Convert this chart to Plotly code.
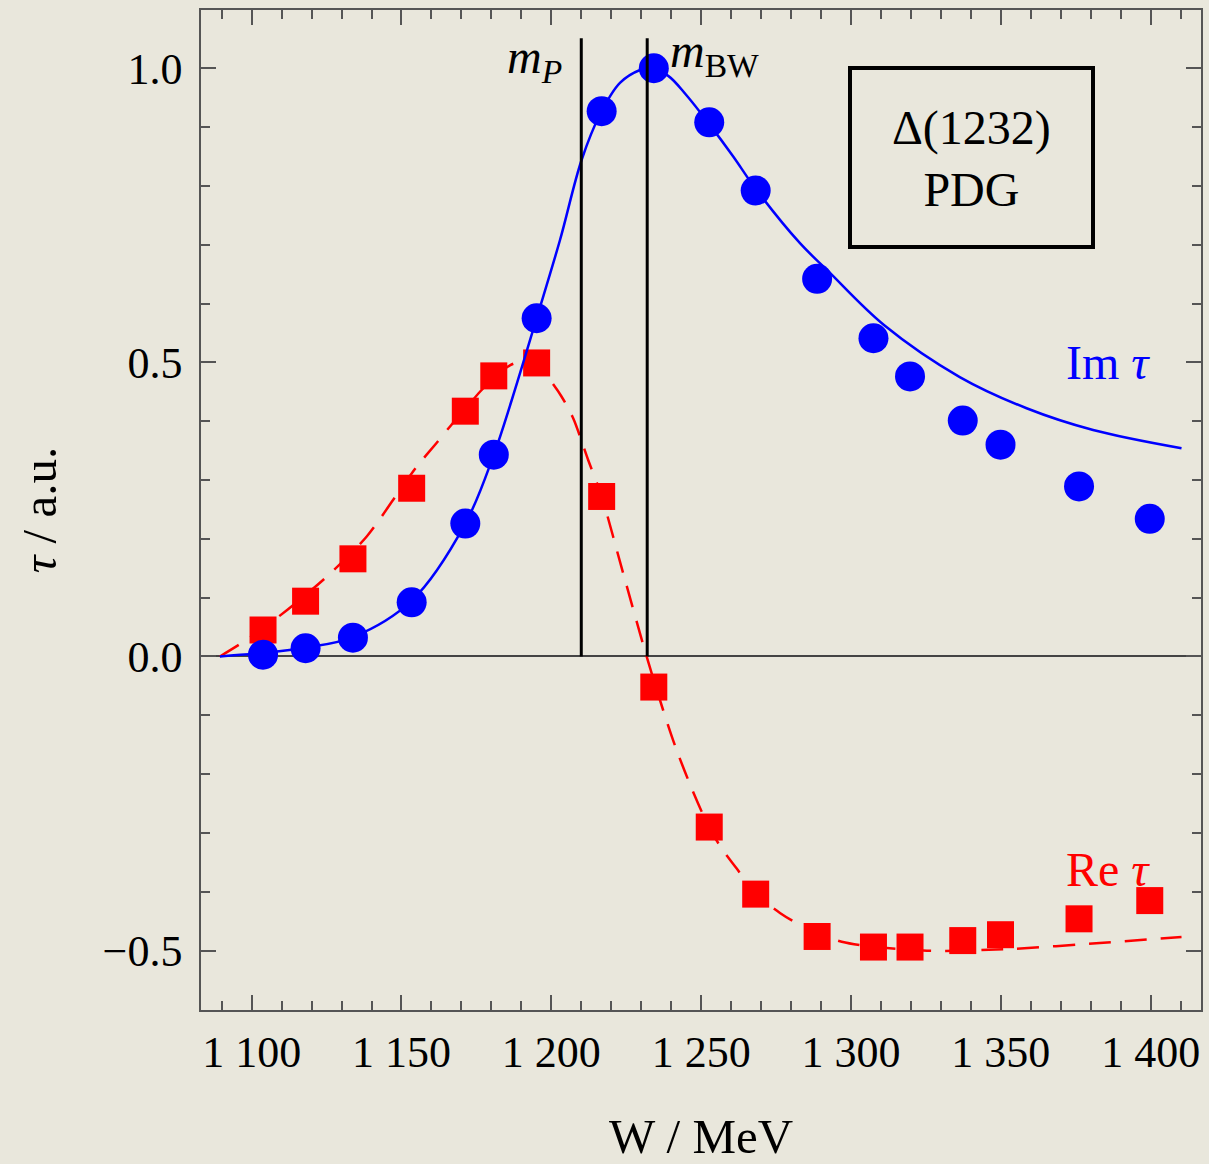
import plotly.graph_objects as go

# ---------------- data ----------------
W_pts = [1103.8, 1118.0, 1133.8, 1153.4, 1171.3, 1180.8, 1195.1, 1216.8, 1234.2,
         1252.7, 1268.2, 1288.7, 1307.5, 1319.7, 1337.3, 1349.9, 1376.1, 1399.7]
im_pts = [0.003, 0.014, 0.032, 0.092, 0.226, 0.343, 0.575, 0.927, 1.000,
          0.908, 0.792, 0.642, 0.541, 0.476, 0.401, 0.360, 0.289, 0.234]
re_pts = [0.045, 0.094, 0.166, 0.286, 0.417, 0.477, 0.499, 0.272, -0.052,
          -0.290, -0.404, -0.476, -0.494, -0.494, -0.483, -0.473, -0.446, -0.415]

W_im_curve = [1089.4, 1103.8, 1118.0, 1133.8, 1153.4, 1171.3, 1180.8, 1186.8, 1195.1,
              1202.9, 1210.1, 1216.2, 1222.9, 1229.6, 1233.0, 1239.0, 1245.1, 1252.7,
              1260.7, 1268.2, 1282.9, 1292.4, 1311.1, 1336.3, 1358.6, 1380.8, 1410.3]
im_curve = [0.000, 0.006, 0.015, 0.033, 0.095, 0.226, 0.343, 0.436, 0.575,
            0.708, 0.844, 0.921, 0.975, 0.997, 1.000, 0.987, 0.954, 0.905,
            0.850, 0.795, 0.703, 0.655, 0.563, 0.475, 0.422, 0.385, 0.354]

W_re_curve = [1089.4, 1096.7, 1108.3, 1124.5, 1138.4, 1149.5, 1155.0, 1161.7, 1166.7,
              1172.0, 1176.2, 1181.0, 1186.2, 1191.5, 1195.5, 1199.4, 1203.4, 1207.3,
              1212.3, 1216.8, 1224.0, 1231.8, 1237.3, 1241.8, 1247.3, 1252.6, 1256.8,
              1261.8, 1268.3, 1276.3, 1282.9, 1296.9, 1324.1, 1354.1, 1383.0, 1410.3]
re_curve = [0.000, 0.023, 0.065, 0.133, 0.204, 0.283, 0.322, 0.363, 0.394,
            0.425, 0.450, 0.474, 0.495, 0.503, 0.494, 0.471, 0.442, 0.405,
            0.334, 0.272, 0.141, 0.000, -0.091, -0.159, -0.230, -0.290, -0.326,
            -0.360, -0.404, -0.436, -0.456, -0.485, -0.500, -0.497, -0.487, -0.477]

mass_P = 1210.0
mass_BW = 1232.0
mass_line_top = 1.051

x_tickvals = [1100, 1150, 1200, 1250, 1300, 1350, 1400]
x_ticktext = ["1 100", "1 150", "1 200", "1 250", "1 300", "1 350", "1 400"]
x_minor = list(range(1090, 1420, 10))
y_tickvals = [-0.5, 0.0, 0.5, 1.0]
y_ticktext = ["\u22120.5", "0.0", "0.5", "1.0"]
y_minor = [round(-0.6 + 0.1 * i, 1) for i in range(18)]

# ---------------- styling ----------------
FONT = "Liberation Serif"
BG = "#E9E7DC"
FRAME = "#555555"
BLUE = "#0000FF"
RED = "#FF0000"

fig = go.Figure()

fig.add_trace(go.Scatter(x=W_pts, y=re_pts, mode="markers",
                         marker=dict(symbol="square", size=27, color=RED, line=dict(width=0)),
                         showlegend=False, hoverinfo="skip"))
fig.add_trace(go.Scatter(x=W_pts, y=im_pts, mode="markers",
                         marker=dict(symbol="circle", size=30, color=BLUE, line=dict(width=0)),
                         showlegend=False, hoverinfo="skip"))
fig.add_trace(go.Scatter(x=W_re_curve, y=re_curve, mode="lines",
                         line=dict(color=RED, width=2.5, dash="22px,14px", shape="spline", smoothing=0.8),
                         showlegend=False, hoverinfo="skip"))
fig.add_trace(go.Scatter(x=W_im_curve, y=im_curve, mode="lines",
                         line=dict(color=BLUE, width=2.5, shape="spline", smoothing=1.0),
                         showlegend=False, hoverinfo="skip"))
for m in (mass_P, mass_BW):
    fig.add_trace(go.Scatter(x=[m, m], y=[0, mass_line_top], mode="lines",
                             line=dict(color="black", width=3),
                             showlegend=False, hoverinfo="skip"))

axis_common = dict(
    showgrid=False, showline=True, linecolor=FRAME, linewidth=1.5, automargin=False,
    mirror="ticks", ticks="inside", ticklen=15, tickwidth=1.5, tickcolor=FRAME,
    tickfont=dict(family=FONT, size=44, color="black"),
)

fig.update_xaxes(
    range=[1083.1, 1416.8], tickmode="array", tickvals=x_tickvals, ticktext=x_ticktext,
    minor=dict(tickmode="array", tickvals=x_minor, ticks="inside", ticklen=9,
               tickwidth=1.5, tickcolor=FRAME),
    zeroline=False,
    title=dict(text="W / MeV", font=dict(family=FONT, size=49, color="black"), standoff=57),
    ticklabelstandoff=2,
    **axis_common,
)
fig.update_yaxes(
    range=[-0.601, 1.099], tickmode="array", tickvals=y_tickvals, ticktext=y_ticktext,
    minor=dict(tickmode="array", tickvals=y_minor, ticks="inside", ticklen=9,
               tickwidth=1.5, tickcolor=FRAME),
    zeroline=True, zerolinecolor="#444444", zerolinewidth=1.5,
    title=dict(text="<i>\u03c4</i> / a.u.", font=dict(family=FONT, size=49, color="black"), standoff=30),
    ticklabelstandoff=8,
    **axis_common,
)

fig.add_shape(type="rect", xref="paper", yref="paper", x0=0.649, x1=0.892, y0=0.763, y1=0.942,
              line=dict(color="black", width=4), fillcolor="rgba(0,0,0,0)")

ann_font = dict(family=FONT, size=48, color="black")
fig.add_annotation(text="\u0394(1232)<br>PDG", xref="paper", yref="paper", x=0.7705, y=0.852,
                   xanchor="center", yanchor="middle", showarrow=False, font=ann_font)
fig.add_annotation(text="<i>m</i><sub><i>P</i></sub>", xref="x", yref="paper", x=mass_P, y=0.950,
                   xanchor="right", yanchor="middle", xshift=-17, showarrow=False, font=ann_font)
fig.add_annotation(text="<i>m</i><sub>BW</sub>", xref="x", yref="paper", x=mass_BW, y=0.956,
                   xanchor="left", yanchor="middle", xshift=21, showarrow=False, font=ann_font)
fig.add_annotation(text="Im <i>\u03c4</i>", xref="paper", yref="paper", x=0.907, y=0.648,
                   xanchor="center", yanchor="middle", showarrow=False,
                   font=dict(family=FONT, size=48, color=BLUE))
fig.add_annotation(text="Re <i>\u03c4</i>", xref="paper", yref="paper", x=0.907, y=0.141,
                   xanchor="center", yanchor="middle", showarrow=False,
                   font=dict(family=FONT, size=48, color=RED))

fig.update_layout(
    width=1209, height=1164,
    margin=dict(l=201, r=8, t=10, b=154),
    paper_bgcolor=BG, plot_bgcolor=BG,
    font=dict(family=FONT, color="black"),
    showlegend=False,
)

fig.write_html("out.html")
